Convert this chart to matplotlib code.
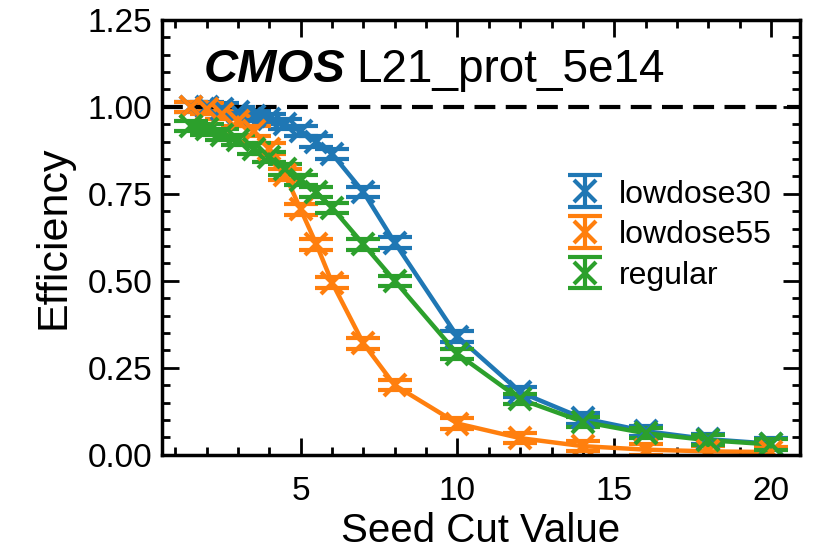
import matplotlib
matplotlib.use("Agg")
import matplotlib.pyplot as plt
from matplotlib.ticker import MultipleLocator

plt.rcParams['font.family'] = ['Liberation Sans', 'DejaVu Sans']

# Seed cut values and efficiencies
seed_cut = [1.5, 2, 2.5, 3, 3.5, 4, 4.5, 5, 5.5, 6, 7, 8, 10, 12, 14, 16, 18, 20]

eff_lowdose30 = [1.00, 1.00, 0.995, 0.985, 0.975, 0.965, 0.95, 0.93, 0.90, 0.865,
                 0.755, 0.61, 0.34, 0.18, 0.105, 0.068, 0.045, 0.032]
eff_lowdose55 = [1.00, 0.995, 0.98, 0.96, 0.93, 0.88, 0.805, 0.705, 0.605, 0.495,
                 0.32, 0.20, 0.09, 0.048, 0.025, 0.015, 0.010, 0.008]
eff_regular = [0.945, 0.935, 0.92, 0.905, 0.88, 0.855, 0.82, 0.79, 0.755, 0.71,
               0.605, 0.50, 0.29, 0.16, 0.095, 0.062, 0.042, 0.030]

err_lowdose30 = [0.015] * len(seed_cut)
err_lowdose55 = [0.015] * len(seed_cut)
err_regular = [0.015] * len(seed_cut)

labels = ['lowdose30', 'lowdose55', 'regular']
colors = ['#1f77b4', '#ff7f0e', '#2ca02c']

fig = plt.figure(figsize=(8.18, 5.5), dpi=100)
ax = fig.add_axes([0.198, 0.173, 0.780, 0.791])

for eff, err, lab, col in zip([eff_lowdose30, eff_lowdose55, eff_regular],
                              [err_lowdose30, err_lowdose55, err_regular],
                              labels, colors):
    ax.plot(seed_cut, eff, color=col, linewidth=3.2)
    ax.errorbar(seed_cut, eff, yerr=err, label=lab, color=col,
                marker='x', markersize=16, markeredgewidth=3, linestyle='none',
                elinewidth=3, capsize=12, capthick=3)

ax.axhline(1.0, color='black', linestyle='--', linewidth=3, dashes=(5, 2.5))

ax.set_ylim(0, 1.25)
ax.set_xlabel('Seed Cut Value', fontsize=29, labelpad=4)
ax.set_ylabel('Efficiency', fontsize=31, labelpad=10)

ax.xaxis.set_major_locator(MultipleLocator(5))
ax.xaxis.set_minor_locator(MultipleLocator(1))
ax.yaxis.set_major_locator(MultipleLocator(0.25))
ax.yaxis.set_minor_locator(MultipleLocator(0.05))
ax.tick_params(which='both', direction='in', top=True, right=True,
               labelsize=24, width=2)
ax.tick_params(which='major', length=12)
ax.tick_params(axis='y', which='major', pad=7)
ax.tick_params(axis='x', which='major', pad=15)
ax.tick_params(which='minor', length=6)
for sp in ax.spines.values():
    sp.set_linewidth(2.5)

ax.text(0.065, 0.857, 'CMOS', transform=ax.transAxes, fontsize=34,
        fontweight='bold', fontstyle='italic')
ax.text(0.305, 0.857, 'L21_prot_5e14', transform=ax.transAxes, fontsize=33)

ax.legend(loc='center right', fontsize=23, frameon=False,
          handlelength=1.3, handletextpad=0.4, labelspacing=0.33,
          borderaxespad=0.2, bbox_to_anchor=(0.985, 0.505))

fig.savefig('out.png', dpi=100)
